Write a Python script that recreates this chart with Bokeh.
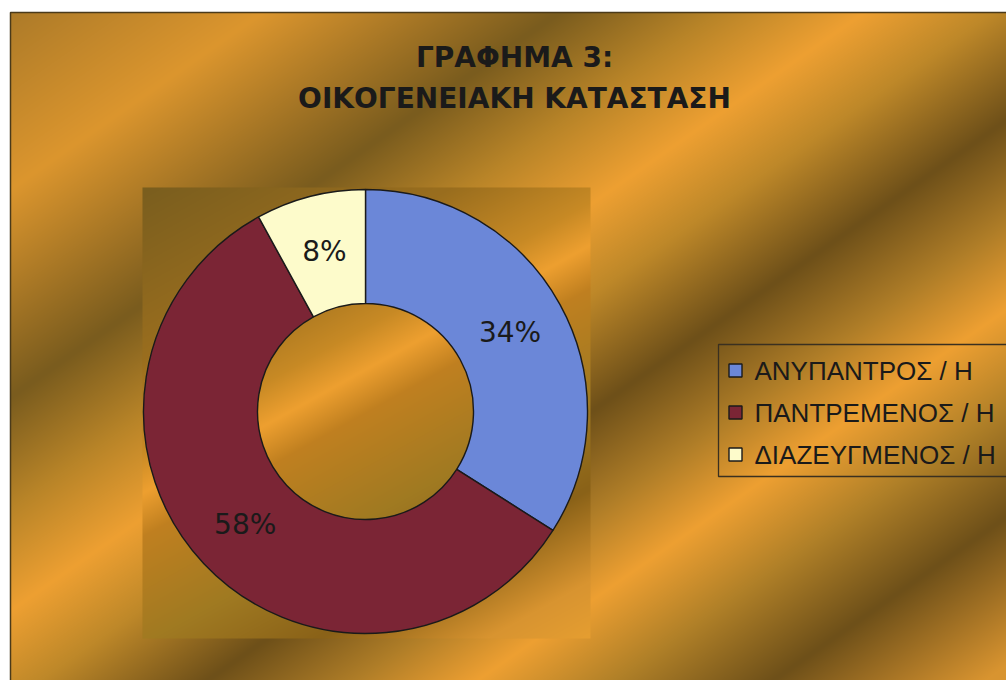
import numpy as np
from math import pi
from bokeh.plotting import figure
from bokeh.models import ColumnDataSource, Range1d
from bokeh.core.properties import value
from bokeh.embed import file_html
from bokeh.resources import INLINE

# ---------------- data ----------------
title_lines = ["ΓΡΑΦΗΜΑ 3:", "ΟΙΚΟΓΕΝΕΙΑΚΗ ΚΑΤΑΣΤΑΣΗ"]
categories = ["ΑΝΥΠΑΝΤΡΟΣ / Η", "ΠΑΝΤΡΕΜΕΝΟΣ / Η", "ΔΙΑΖΕΥΓΜΕΝΟΣ / Η"]
percents = [34, 58, 8]
slice_colors = ["#6B87D8", "#7B2535", "#FDFBCB"]

W, H = 1006, 680
FONT = "Liberation Sans"
FONT2 = "DejaVu Sans"

def sx(X):  # screen px -> data x
    return X

def sy(Y):  # screen px -> data y
    return H - Y

p = figure(width=W, height=H, output_backend="svg", toolbar_location=None,
           x_range=Range1d(0, W), y_range=Range1d(0, H), min_border=0)
p.axis.visible = False
p.grid.visible = False
p.outline_line_color = None
p.background_fill_color = "white"
p.border_fill_color = "white"


def hex2rgb(h):
    h = h.lstrip("#")
    return [int(h[i:i + 2], 16) for i in (0, 2, 4)]


def gradient(width, height, X0, Y0, ax, ay, stops):
    jj, ii = np.meshgrid(np.arange(width), np.arange(height))
    t = ax * (X0 + jj) + ay * (Y0 + ii)
    pos = [s[0] for s in stops]
    cols = np.array([hex2rgb(s[1]) for s in stops], dtype=float)
    img = np.empty((height, width), dtype=np.uint32)
    view = img.view(dtype=np.uint8).reshape((height, width, 4))
    for c in range(3):
        view[:, :, c] = np.interp(t, pos, cols[:, c]).astype(np.uint8)
    view[:, :, 3] = 255
    return img[::-1]

# chart area background (screen X 10.., Y 12..)
chart_stops = [(0, "#A87828"), (160, "#DC962E"), (330, "#7A5C1E"), (420, "#B88428"),
               (505, "#EEA032"), (580, "#BE8829"), (675, "#6E5019"), (760, "#B07E28"),
               (830, "#EEA032"), (910, "#B08028"), (1000, "#6E5019"), (1120, "#D89430")]
CX0, CY0 = 10, 12
cw, ch = W - CX0, H - CY0
p.image_rgba(image=[gradient(cw, ch, CX0, CY0, 0.574, 0.819, chart_stops)],
             x=sx(CX0), y=sy(CY0 + ch), dw=cw, dh=ch)
# chart border
p.line(x=[sx(CX0), sx(CX0), W], y=[0, sy(CY0), sy(CY0)], line_color="#4A3A1A", line_width=1.5)

# plot area background (screen X 142..590, Y 187..638)
PX0, PY0, pw, ph = 142, 187, 448, 451
plot_stops = [(0, "#7A5E1E"), (150, "#9A6E1E"), (230, "#C88A25"), (267, "#EEA030"),
              (305, "#C08020"), (400, "#A07A22"), (480, "#8A6218"), (560, "#D89430"),
              (620, "#E8A030")]
p.image_rgba(image=[gradient(pw, ph, 0, 0, 0.485, 0.875, plot_stops)],
             x=sx(PX0), y=sy(PY0 + ph), dw=pw, dh=ph)

# ---------------- donut ----------------
cx, cy = sx(365), sy(411)
r_out, r_in = 222, 108
total = float(sum(percents))
fr = np.array(percents) / total
cum = np.concatenate([[0], np.cumsum(fr)])
start = pi / 2 - 2 * pi * cum[:-1]
end = pi / 2 - 2 * pi * cum[1:]
src = ColumnDataSource(dict(start=start, end=end, color=slice_colors, cat=categories))
p.annular_wedge(x=cx, y=cy, inner_radius=r_in, outer_radius=r_out,
                start_angle="start", end_angle="end", direction="clock",
                fill_color="color", line_color="#1A1A1A", line_width=1.4, source=src)

mid = (start + end) / 2
r_lab = (r_in + r_out) / 2
lab = ColumnDataSource(dict(x=cx + r_lab * np.cos(mid), y=cy + r_lab * np.sin(mid),
                            t=[f"{v}%" for v in percents]))
p.text(x="x", y="y", text="t", source=lab, text_align="center", text_baseline="middle",
       text_font=value(FONT2), text_font_size="28px", text_color="#1A1A1A")

# ---------------- title ----------------
p.text(x=[sx(514)] * 2, y=[sy(57), sy(98)], text=title_lines, text_align="center",
       text_baseline="middle", text_font=value(FONT2), text_font_size="28px",
       text_font_style="bold", text_color="#1A1A1A")

# ---------------- legend ----------------
lx0, ly0, lyb = sx(718), sy(344), sy(476)
p.line(x=[W, lx0, lx0, W], y=[ly0, ly0, lyb, lyb], line_color="#3A3020", line_width=1.3)
rows = [sy(370) - i * 42 for i in range(len(categories))]
leg = ColumnDataSource(dict(x=[sx(735)] * len(categories), tx=[sx(754)] * len(categories),
                            y=rows, color=slice_colors, cat=categories))
p.scatter(x="x", y="y", marker="square", size=13, fill_color="color",
          line_color="#1A1A1A", line_width=1.4, source=leg)
p.text(x="tx", y="y", text="cat", source=leg, text_align="left", text_baseline="middle",
       text_font=value(FONT), text_font_size="26px", text_color="#1A1A1A")

open("out.html", "w").write(file_html(p, INLINE))
